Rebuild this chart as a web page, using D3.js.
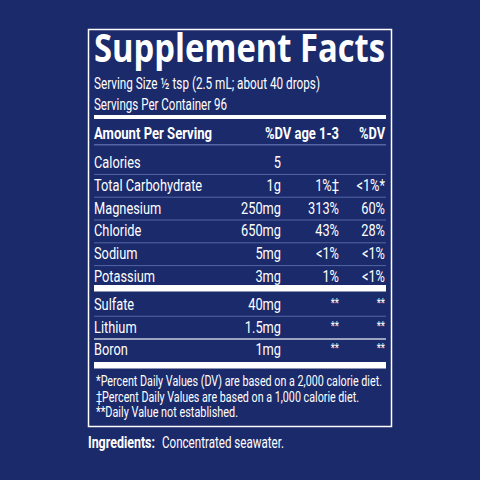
<!DOCTYPE html>
<html><head><meta charset="utf-8">
<script src="https://cdn.jsdelivr.net/npm/d3@7"></script>
<style>body{margin:0;background:#1b2a6b}</style></head>
<body><svg id="c" width="480" height="480"></svg>
<script>
const nutrients1 = ["Calories","Total Carbohydrate","Magnesium","Chloride","Sodium","Potassium"];
const amounts1 = ["5","1g","250mg","650mg","5mg","3mg"];
const dvChild1 = ["","1%‡","313%","43%","<1%","1%"];
const dvAdult1 = ["","<1%*","60%","28%","<1%","<1%"];
const nutrients2 = ["Sulfate","Lithium","Boron"];
const amounts2 = ["40mg","1.5mg","1mg"];
const dvChild2 = ["**","**","**"];
const dvAdult2 = ["**","**","**"];
const footnotes = ["*Percent Daily Values (DV) are based on a 2,000 calorie diet.","‡Percent Daily Values are based on a 1,000 calorie diet.","**Daily Value not established."];

const svg = d3.select("#c");
const F = "'Roboto',sans-serif";
const W = "#fff", LINE = "#5565a3";
svg.append("rect").attr("width",480).attr("height",480).attr("fill","#1b2a6b");
svg.append("rect").attr("x",88.5).attr("y",29.5).attr("width",303).attr("height",397).attr("fill","none").attr("stroke",W).attr("stroke-width",1.5);

const t = (x,y,s,size,opt={}) => svg.append("text").attr("x",x).attr("y",y).text(s)
  .attr("fill",W).attr("font-family",opt.fam||F).attr("font-size",size)
  .attr("font-weight",opt.bold?"bold":"normal").attr("text-anchor",opt.anchor||"start")
  .call(e=>{
    let L = opt.len;
    if(!L && opt.sq) L = e.node().getComputedTextLength()*opt.sq;
    if(L) e.attr("textLength",L).attr("lengthAdjust","spacingAndGlyphs");
  });

t(94,62,"Supplement Facts",40,{bold:true,fam:"'Open Sans',sans-serif",len:291});
t(94,89,"Serving Size ½ tsp (2.5 mL; about 40 drops)",16.5,{len:226});
t(94,110,"Servings Per Container 96",16.5,{len:133});
const hl=(y,h,c)=>svg.append("rect").attr("x",94).attr("y",y).attr("width",292).attr("height",h).attr("fill",c);
hl(115,4,W);
t(94,139,"Amount Per Serving",16,{bold:true,len:118});
t(339,139,"%DV age 1-3",16,{bold:true,anchor:"end",len:74});
t(385,139,"%DV",16,{bold:true,anchor:"end",len:26});
hl(144,1.5,LINE);

const xAmt=281, xC=339, xA=385;
const y1 = d3.scaleLinear().domain([0,5]).range([163,277]);
const y2 = d3.scaleLinear().domain([0,2]).range([305,350]);
function rows(names,am,c,a,y){
  names.forEach((n,i)=>{
    const yy=y(i)+5;
    const star=c[i]=="**";
    t(94,yy,n,16,{sq:0.8});
    t(xAmt,yy,am[i],16,{anchor:"end",sq:0.8});
    t(xC,yy-(star?3:0),c[i],star?12:16,{anchor:"end",sq:0.8});
    t(xA,yy-(star?3:0),a[i],star?12:16,{anchor:"end",sq:0.8});
  });
}
rows(nutrients1,amounts1,dvChild1,dvAdult1,y1);
rows(nutrients2,amounts2,dvChild2,dvAdult2,y2);
d3.range(5).forEach(i=>hl((y1(i)+y1(i+1))/2-0.5,1,LINE));
hl(285,6.5,W);
hl((y2(0)+y2(1))/2-0.5,1,LINE);
hl((y2(1)+y2(2))/2-0.5,1.5,"#c8cde0");
hl(362,6.5,W);
footnotes.forEach((f,i)=>t(96,386+i*15.5,f,15.5,{len:[286,263,142][i]}));
t(88,448,"Ingredients:",17,{bold:true,len:67});
t(162,448,"Concentrated seawater.",17,{len:122});
</script></body></html>
